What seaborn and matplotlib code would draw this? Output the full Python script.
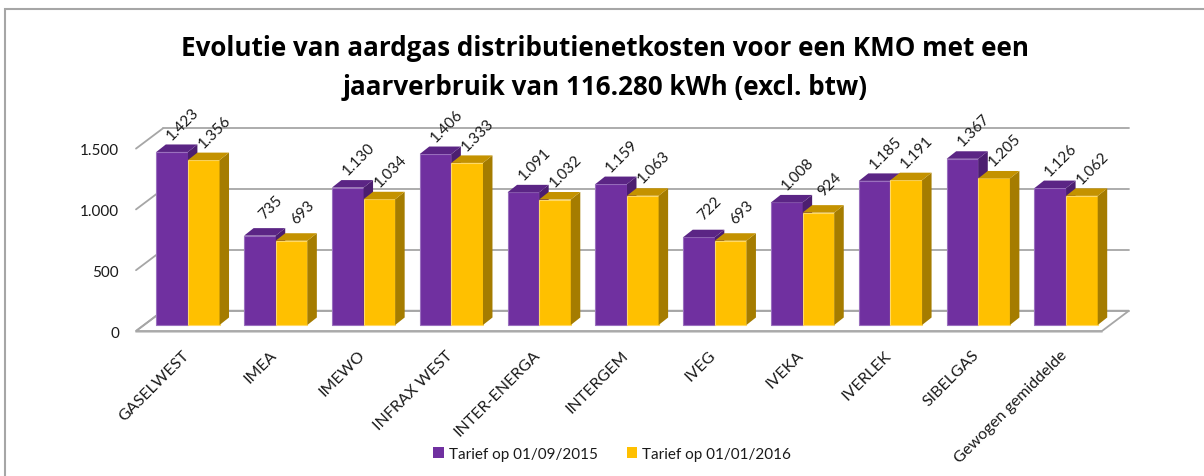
import numpy as np
import pandas as pd
import matplotlib
matplotlib.use("Agg")
import matplotlib.pyplot as plt
import seaborn as sns
from matplotlib.patches import Polygon, Rectangle
from matplotlib.lines import Line2D

# ---------------- data ----------------
categories = ["GASELWEST", "IMEA", "IMEWO", "INFRAX WEST", "INTER-ENERGA",
              "INTERGEM", "IVEG", "IVEKA", "IVERLEK", "SIBELGAS",
              "Gewogen gemiddelde"]
series_names = ["Tarief op 01/09/2015", "Tarief op 01/01/2016"]
tarief_2015 = [1423, 735, 1130, 1406, 1091, 1159, 722, 1008, 1185, 1367, 1126]
tarief_2016 = [1356, 693, 1034, 1333, 1032, 1063, 693, 924, 1191, 1205, 1062]
yticks = [0, 500, 1000, 1500]
ytick_labels = ["0", "500", "1.000", "1.500"]
title_lines = ["Evolutie van aardgas distributienetkosten voor een KMO met een",
               "jaarverbruik van 116.280 kWh (excl. btw)"]

# ---------------- style ----------------
PURPLE, PURPLE_TOP, PURPLE_SIDE, PURPLE_EDGE = "#7030A0", "#5B2585", "#4C1E70", "#9A70BE"
YELLOW, YELLOW_TOP, YELLOW_SIDE, YELLOW_EDGE = "#FFC000", "#C49200", "#A57C00", "#FFD966"
GRID = "#A6A6A6"
TEXT = "#1A1A1A"
FS = 11

sns.set_style("white")
plt.rcParams["font.family"] = ["Lato", "DejaVu Sans"]

W, H, DPI = 1204, 477, 100
fig = plt.figure(figsize=(W / DPI, H / DPI), dpi=DPI)

# geometry (pixels) of the bar plane
X_LEFT_PX, X_RIGHT_PX = 144, 1110
ZERO_PX = 326
SY = 0.1216                      # px per value unit
YMIN, YMAX = -70, 1600
n = len(categories)
SX = (X_RIGHT_PX - X_LEFT_PX) / n  # px per category unit
bot_px = ZERO_PX - YMIN * SY
top_px = ZERO_PX - YMAX * SY
ax = fig.add_axes([X_LEFT_PX / W, 1 - bot_px / H,
                   (X_RIGHT_PX - X_LEFT_PX) / W, (bot_px - top_px) / H])

df = pd.DataFrame({
    "Netbeheerder": categories * 2,
    "Tarief": [series_names[0]] * n + [series_names[1]] * n,
    "Kost": tarief_2015 + tarief_2016,
})

sns.barplot(data=df, x="Netbeheerder", y="Kost", hue="Tarief",
            palette=[PURPLE, YELLOW], saturation=1, width=0.72,
            linewidth=0.8, ax=ax)

ax.set_xlim(-0.5, n - 0.5)
ax.set_ylim(YMIN, YMAX)
for s in ax.spines.values():
    s.set_visible(False)
ax.grid(False)
ax.set_xlabel("")
ax.set_ylabel("")

# depth offsets converted to data units
def d(dx_px, dy_px):
    return dx_px / SX, dy_px / SY

FRONT = d(-8, -6)
BACK = d(19, 14.3)
DEPTH = d(9.5, 7.5)
x0, x1 = -0.5, n - 0.5

# floor
floor = Polygon([(x0 + FRONT[0], FRONT[1]), (x1 + FRONT[0], FRONT[1]),
                 (x1 + BACK[0], BACK[1]), (x0 + BACK[0], BACK[1])],
                closed=True, facecolor="white", edgecolor=GRID, lw=1.3,
                zorder=0.5, clip_on=False)
ax.add_patch(floor)
ax.add_line(Line2D([x0 + FRONT[0], x1 + FRONT[0]], [FRONT[1] - 12, FRONT[1] - 12],
                   color="#C8C8C8", lw=1.2, zorder=0.4, clip_on=False))

# back wall gridlines and left wall diagonals
for v in yticks:
    ax.add_line(Line2D([x0 + BACK[0], x1 + BACK[0]], [v + BACK[1], v + BACK[1]],
                       color=GRID, lw=1.3, zorder=0.6, clip_on=False))
    ax.add_line(Line2D([x0 + FRONT[0], x0 + BACK[0]], [v + FRONT[1], v + BACK[1]],
                       color=GRID, lw=1.3, zorder=0.6, clip_on=False))

# 3D faces of the bars
face_cols = [(PURPLE_TOP, PURPLE_SIDE, PURPLE_EDGE), (YELLOW_TOP, YELLOW_SIDE, YELLOW_EDGE)]
for k, (cont, (ctop, cside, cedge)) in enumerate(zip(ax.containers, face_cols)):
    z = 3 + k
    for rect in cont:
        bx, bw, bh = rect.get_x(), rect.get_width(), rect.get_height()
        rect.set_edgecolor(cedge)
        rect.set_zorder(z)
        side = Polygon([(bx + bw, 0), (bx + bw + DEPTH[0], DEPTH[1]),
                        (bx + bw + DEPTH[0], bh + DEPTH[1]), (bx + bw, bh)],
                       closed=True, facecolor=cside, edgecolor="none", zorder=z,
                       clip_on=False)
        top = Polygon([(bx, bh), (bx + bw, bh), (bx + bw + DEPTH[0], bh + DEPTH[1]),
                       (bx + DEPTH[0], bh + DEPTH[1])],
                      closed=True, facecolor=ctop, edgecolor="none", zorder=z,
                      clip_on=False)
        ax.add_patch(side)
        ax.add_patch(top)
        label = f"{int(round(bh)):,}".replace(",", ".")
        ax.annotate(label, xy=(bx + bw / 2, bh), xytext=(11 * 72 / DPI, 29 * 72 / DPI),
                    textcoords="offset points", ha="center", va="center",
                    rotation=45, fontsize=FS, color=TEXT, zorder=10,
                    annotation_clip=False)

# y ticks placed on the front plane
ax.set_yticks(np.array(yticks) + FRONT[1], ytick_labels)
ax.tick_params(axis="y", length=0, pad=18, labelsize=FS, labelcolor=TEXT)

# x tick labels
ax.set_xticks(np.arange(n) - 6 / SX, categories)
for lab in ax.get_xticklabels():
    lab.set_rotation(45)
    lab.set_ha("right")
    lab.set_va("top")
    lab.set_rotation_mode("anchor")
ax.tick_params(axis="x", length=0, pad=10, labelsize=11.5, labelcolor=TEXT)

# legend
sns.move_legend(ax, "center", bbox_to_anchor=(612 / W, 1 - 455 / H),
                bbox_transform=fig.transFigure, ncol=2, title=None, frameon=False,
                fontsize=FS, handlelength=0.7, handleheight=0.7,
                handletextpad=0.3, columnspacing=1.9)
for t in ax.get_legend().get_texts():
    t.set_color(TEXT)
for hnd in ax.get_legend().legend_handles:
    hnd.set_edgecolor("none")

# title
fig.text(605 / W, 1 - 68 / H, "\n".join(title_lines), ha="center", va="center",
         fontsize=18.7, fontweight="bold", color="black", linespacing=1.55,
         family=["Open Sans", "DejaVu Sans"])

# chart border (top and left edges visible)
fig.add_artist(Rectangle((5 / W, -0.2), 1.5, 1.2 - 10 / H, transform=fig.transFigure,
                         facecolor="none", edgecolor="#A6A6A6", lw=1.5, clip_on=False))

fig.savefig("out.png", dpi=DPI)
